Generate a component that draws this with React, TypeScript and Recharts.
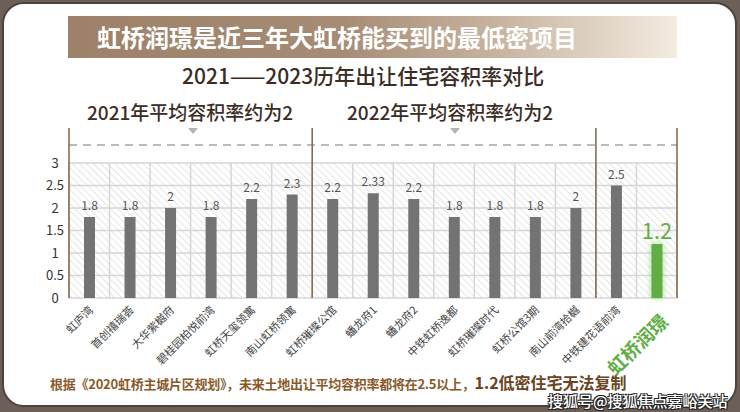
import { BarChart, Bar, XAxis, YAxis, CartesianGrid, ReferenceLine, LabelList, Cell } from "recharts";

const projects = [
  "虹庐湾",
  "首创禧瑞荟",
  "大华紫樾府",
  "碧桂园柏悦前湾",
  "虹桥天玺领寓",
  "南山虹桥领寓",
  "虹桥璀璨公馆",
  "蟠龙府1",
  "蟠龙府2",
  "中铁虹桥逸都",
  "虹桥璀璨时代",
  "虹桥公馆3期",
  "南山前湾拾樾",
  "中铁建花语前湾",
  "虹桥润璟",
];
const ratios = [1.8, 1.8, 2, 1.8, 2.2, 2.3, 2.2, 2.33, 2.2, 1.8, 1.8, 1.8, 2, 2.5, 1.2];
const yTicks = [0, 0.5, 1, 1.5, 2, 2.5, 3];
const slotTicks = [0, 1, 2, 3, 4, 5, 6, 7, 8, 9, 10, 11, 12, 13, 14, 15];
const groupEdges = [0, 6, 13, 15];
const highlight = "虹桥润璟";
const futureLevel = 3.4;
const dividerTop = 3.78;

const chartData = projects.map((name, i) => ({ name, value: ratios[i], slot: i + 0.5 }));

const GREEN = "#62ad45";
const FONT = "'Noto Sans CJK SC', 'Noto Sans', sans-serif";

function XTick({ x, y, payload }: any) {
  const hi = payload.value === highlight;
  return (
    <g transform={`translate(${x + (hi ? 8 : 2)},${y + (hi ? 12 : 2)})`}>
      <text
        transform="rotate(-45)"
        textAnchor="end"
        dy="0.35em"
        fontSize={hi ? 19 : 11}
        fontWeight={hi ? 700 : 400}
        fill={hi ? GREEN : "#444"}
        fontFamily={FONT}
      >
        {payload.value}
      </text>
    </g>
  );
}

function YTick({ x, y, payload }: any) {
  return (
    <text x={x - 6} y={y} dy="0.35em" textAnchor="middle" fontSize={13} fill="#333" fontFamily={FONT}>
      {payload.value}
    </text>
  );
}

function ValueLabel({ x, y, width, value, index }: any) {
  const hi = projects[index] === highlight;
  return (
    <text
      x={x + width / 2}
      y={y - (hi ? 5 : 7)}
      textAnchor="middle"
      fontSize={hi ? 22 : 12}
      fill={hi ? GREEN : "#555"}
      fontFamily={FONT}
    >
      {value}
    </text>
  );
}

export default function App() {
  return (
    <div style={{ position: "absolute", left: 0, top: 0, width: 740, height: 412, background: "#6b5f58", fontFamily: FONT, overflow: "hidden" }}>
      <div
        style={{
          position: "absolute",
          left: 2,
          top: 2,
          width: 731,
          height: 401,
          background: "#fff",
          border: "2px solid #4c433d",
          borderRadius: 22,
        }}
      />
      <div
        style={{
          position: "absolute",
          left: 68,
          top: 16,
          width: 609,
          height: 42,
          background: "linear-gradient(90deg, #9d8169 0%, #a68c75 45%, #c9b6a2 72%, #f3ece1 100%)",
        }}
      />
      <div style={{ position: "absolute", left: 97, top: 22, fontSize: 24, fontWeight: 700, color: "#fff", lineHeight: "30px", whiteSpace: "nowrap" }}>
        虹桥润璟是近三年大虹桥能买到的最低密项目
      </div>
      <div style={{ position: "absolute", left: 182, top: 61, fontSize: 21, fontWeight: 500, color: "#3b2d24", lineHeight: "28px", whiteSpace: "nowrap" }}>
        2021——2023历年出让住宅容积率对比
      </div>
      <div style={{ position: "absolute", left: 87, top: 99, fontSize: 19, fontWeight: 500, color: "#3b2d24", lineHeight: "26px", whiteSpace: "nowrap" }}>
        2021年平均容积率约为2
      </div>
      <div style={{ position: "absolute", left: 347, top: 99, fontSize: 19, fontWeight: 500, color: "#3b2d24", lineHeight: "26px", whiteSpace: "nowrap" }}>
        2022年平均容积率约为2
      </div>
      {[193, 455].map((cx) => (
        <div
          key={cx}
          style={{
            position: "absolute",
            left: cx - 5,
            top: 128,
            width: 0,
            height: 0,
            borderLeft: "5px solid transparent",
            borderRight: "5px solid transparent",
            borderTop: "6px solid #b8b2ac",
          }}
        />
      ))}
      <div style={{ position: "absolute", left: 0, top: 0 }}>
        <BarChart width={740} height={412} data={chartData} margin={{ top: 163, right: 63, bottom: 0, left: 0 }}>
          <defs>
            <pattern id="hatch" width="5" height="5" patternUnits="userSpaceOnUse" patternTransform="rotate(-45)">
              <rect width="5" height="5" fill="#fff" />
              <line x1="0" y1="0" x2="0" y2="5" stroke="#dcdcdc" strokeWidth="1.4" />
            </pattern>
            <filter id="glow" x="-100%" y="-20%" width="300%" height="140%">
              <feDropShadow dx="0" dy="0" stdDeviation="3" floodColor="#8fdc6c" floodOpacity="0.9" />
            </filter>
          </defs>
          <CartesianGrid xAxisId="grid" fill="url(#hatch)" stroke="#d6d6d6" strokeWidth={1.5} />
          <XAxis xAxisId="grid" type="number" dataKey="slot" domain={[0, 15]} ticks={slotTicks} interval={0} hide />
          <XAxis
            xAxisId="cat"
            dataKey="name"
            interval={0}
            height={114}
            axisLine={false}
            tickLine={false}
            tick={<XTick />}
          />
          <YAxis width={69} domain={[0, 3]} ticks={yTicks} interval={0} axisLine={false} tickLine={false} tick={<YTick />} />
          <ReferenceLine xAxisId="grid" y={futureLevel} ifOverflow="visible" stroke="#777" strokeDasharray="8 6" strokeWidth={1.2} />
          {groupEdges.map((edge) => (
            <ReferenceLine
              key={edge}
              xAxisId="grid"
              ifOverflow="visible"
              segment={[
                { x: edge, y: 0 },
                { x: edge, y: dividerTop },
              ]}
              stroke="#8a6b4e"
              strokeWidth={1.6}
            />
          ))}
          <Bar xAxisId="cat" dataKey="value" barSize={11} fill="#737373" isAnimationActive={false}>
            {chartData.map((d) => (
              <Cell
                key={d.name}
                fill={d.name === highlight ? GREEN : "#737373"}
                filter={d.name === highlight ? "url(#glow)" : undefined}
              />
            ))}
            <LabelList dataKey="value" content={<ValueLabel />} />
          </Bar>
        </BarChart>
      </div>
      <div style={{ position: "absolute", left: 50, top: 373, fontSize: 13, fontWeight: 700, color: "#8a5a2c", lineHeight: "18px", whiteSpace: "nowrap", letterSpacing: -0.25 }}>
        根据《2020虹桥主城片区规划》，未来土地出让平均容积率都将在2.5以上，
        <span style={{ fontSize: 16, color: "#6a4524", letterSpacing: 0 }}>1.2低密住宅无法复制</span>
      </div>
      <div
        style={{
          position: "absolute",
          left: 548,
          top: 392,
          fontSize: 15,
          fontWeight: 500,
          color: "#fff",
          lineHeight: "17px",
          whiteSpace: "nowrap",
          textShadow: "1px 1px 0 #222, -1px -1px 0 #222, 1px -1px 0 #222, -1px 1px 0 #222",
        }}
      >
        搜狐号@搜狐焦点嘉峪关站
      </div>
    </div>
  );
}
